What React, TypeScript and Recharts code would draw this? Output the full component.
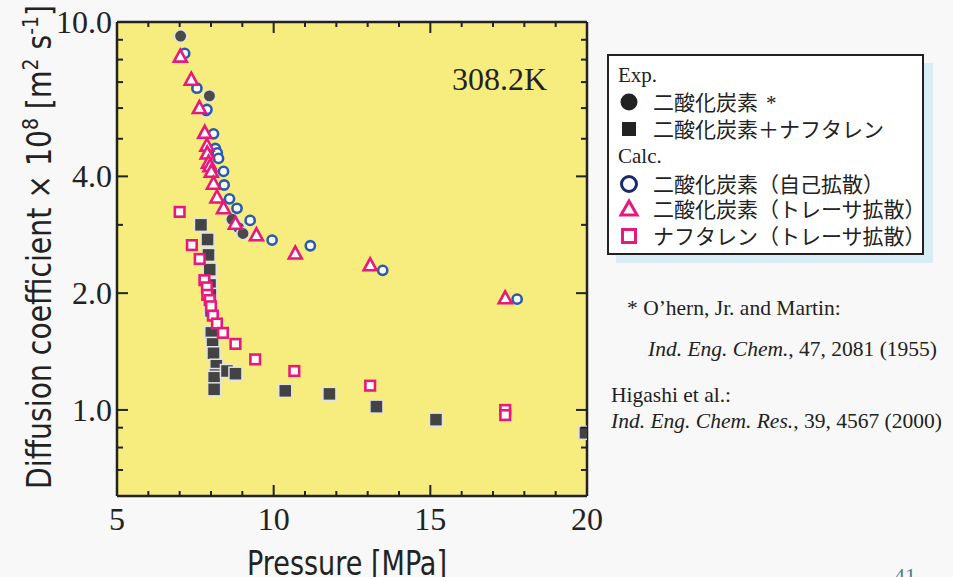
import React from "react";
import { CartesianGrid, Scatter, ScatterChart, XAxis, YAxis } from "recharts";

// [pressure MPa, D x 10^8 m2/s]
const expCO2 = [
  [7.03, 9.2], [7.85, 5.9], [7.95, 6.45], [8.67, 3.1], [8.88, 2.95], [9.02, 2.85],
];
const expCO2Naph = [
  [7.68, 3.0], [7.89, 2.75], [7.92, 2.51], [7.96, 2.3], [7.97, 2.1], [7.98, 1.98],
  [8.0, 1.8], [8.01, 1.58], [8.05, 1.48], [8.08, 1.4], [8.17, 1.3], [8.14, 1.23],
  [8.1, 1.21], [8.1, 1.13], [8.51, 1.26], [8.78, 1.24], [10.37, 1.12], [11.78, 1.1],
  [13.28, 1.02], [15.18, 0.944], [19.95, 0.873],
];
const calcSelf = [
  [7.16, 8.3], [7.55, 6.75], [7.87, 5.95], [8.08, 5.15], [8.14, 4.72], [8.2, 4.6],
  [8.24, 4.45], [8.4, 4.12], [8.42, 3.8], [8.59, 3.5], [8.83, 3.31], [9.25, 3.08],
  [9.95, 2.74], [11.17, 2.65], [13.48, 2.29], [17.77, 1.93],
];
const calcTracer = [
  [7.02, 8.14], [7.37, 7.1], [7.63, 6.0], [7.8, 5.18], [7.87, 4.8], [7.88, 4.58],
  [7.92, 4.34], [7.97, 4.25], [8.01, 4.11], [8.08, 3.83], [8.19, 3.53], [8.4, 3.31],
  [8.78, 3.02], [9.45, 2.82], [10.69, 2.53], [13.08, 2.36], [17.39, 1.94],
];
const calcNaph = [
  [7.0, 3.24], [7.39, 2.66], [7.64, 2.45], [7.79, 2.16], [7.87, 2.07], [7.88, 1.98],
  [7.96, 1.92], [8.0, 1.85], [8.06, 1.75], [8.19, 1.67], [8.38, 1.58], [8.78, 1.48],
  [9.41, 1.35], [10.66, 1.26], [13.08, 1.155], [17.39, 1.0], [17.39, 0.97],
];

const xTicks = [5, 6, 7, 8, 9, 10, 11, 12, 13, 14, 15, 16, 17, 18, 19, 20];
const xLabeled = [5, 10, 15, 20];
const yTicks = [0.7, 0.8, 0.9, 1, 2, 3, 4, 5, 6, 7, 8, 9, 10];
const yLabeled = [1, 2, 4, 10];

const PLOT_W = 470;
const PLOT_H = 474;
const INK = "#222";
const PINK = "#e8197b";
const BLUE = "#2a5cae";
const SERIF = "'Liberation Serif', 'Times New Roman', serif";
const SANS_NARROW = "'Liberation Sans Narrow', 'DejaVu Sans Condensed', 'Open Sans', sans-serif";
const CJK = "'Noto Sans CJK JP', 'Noto Sans', sans-serif";

const toPts = (arr: number[][]) => arr.map(([p, d]) => ({ p, d }));

function YTick(props: any) {
  const { x, y, payload } = props;
  const major = yLabeled.includes(payload.value);
  const len = major ? 11 : 6;
  return (
    <g>
      <line x1={x} x2={x + len} y1={y} y2={y} stroke={INK} strokeWidth={2} />
      <line x1={x + PLOT_W - len} x2={x + PLOT_W} y1={y} y2={y} stroke={INK} strokeWidth={2} />
      {major && (
        <text x={x - 5} y={y + 11} textAnchor="end" fontFamily={SERIF} fontSize={32} fill={INK}>
          {payload.value.toFixed(1)}
        </text>
      )}
    </g>
  );
}

function XTick(props: any) {
  const { x, y, payload } = props;
  const major = xLabeled.includes(payload.value);
  const len = major ? 11 : 5;
  return (
    <g>
      <line x1={x} x2={x} y1={y} y2={y - len} stroke={INK} strokeWidth={2} />
      <line x1={x} x2={x} y1={y - PLOT_H} y2={y - PLOT_H + len} stroke={INK} strokeWidth={2} />
      {major && (
        <text x={x} y={y + 34} textAnchor="middle" fontFamily={SERIF} fontSize={32} fill={INK}>
          {payload.value}
        </text>
      )}
    </g>
  );
}

const grayCircle = (p: any) => (
  <circle cx={p.cx} cy={p.cy} r={6.2} fill="#4a4a4a" stroke="#e2e2e2" strokeWidth={1.5} />
);
const graySquare = (p: any) => (
  <rect x={p.cx - 6.5} y={p.cy - 6.5} width={13} height={13} fill="#434343" stroke="#e2e2e2" strokeWidth={1.5} />
);
const blueCircle = (p: any) => (
  <circle cx={p.cx} cy={p.cy} r={4.6} fill="#fff" stroke={BLUE} strokeWidth={2.6} />
);
const pinkTriangle = (p: any) => (
  <path
    d={`M${p.cx},${p.cy - 7} L${p.cx + 6.5},${p.cy + 5} L${p.cx - 6.5},${p.cy + 5} Z`}
    fill="#fff"
    stroke={PINK}
    strokeWidth={2.6}
  />
);
const pinkSquare = (p: any) => (
  <rect x={p.cx - 4.8} y={p.cy - 4.8} width={9.6} height={9.6} fill="#fff" stroke={PINK} strokeWidth={2.6} />
);

function Overlay() {
  const itemX = 653;
  return (
    <svg width={953} height={577} style={{ position: "absolute", left: 0, top: 0, pointerEvents: "none" }}>
      {/* axis titles */}
      <text
        transform="translate(51,247) rotate(-90)"
        textAnchor="middle"
        fontFamily={SANS_NARROW}
        fontSize={33}
        fill={INK}
        textLength={484}
        lengthAdjust="spacingAndGlyphs"
      >
        Diffusion coefficient × 10
        <tspan dy={-13} fontSize={22}>8</tspan>
        <tspan dy={13}> [m</tspan>
        <tspan dy={-13} fontSize={22}>2</tspan>
        <tspan dy={13}> s</tspan>
        <tspan dy={-13} fontSize={22}>-1</tspan>
        <tspan dy={13}>]</tspan>
      </text>
      <text x={347} y={575} textAnchor="middle" fontFamily={SANS_NARROW} fontSize={33} fill={INK} textLength={200} lengthAdjust="spacingAndGlyphs">
        Pressure [MPa]
      </text>
      <text x={452} y={90} fontFamily={SERIF} fontSize={32} fill={INK}>308.2K</text>

      {/* legend */}
      <rect x={616} y={63} width={317} height={200} fill="#d8eef4" />
      <rect x={608} y={55} width={315} height={199} fill="#fff" stroke={INK} strokeWidth={2} />
      <text x={618} y={82} fontFamily={SERIF} fontSize={21} fill={INK}>Exp.</text>
      <circle cx={629} cy={102} r={8.5} fill={INK} />
      <text x={itemX} y={110} fontFamily={CJK} fontSize={21} fill={INK}>二酸化炭素</text>
      <text x={766} y={110} fontFamily={SERIF} fontSize={21} fill={INK}>*</text>
      <rect x={622} y={122} width={14} height={14} fill={INK} />
      <text x={itemX} y={137} fontFamily={CJK} fontSize={21} fill={INK}>二酸化炭素＋ナフタレン</text>
      <text x={618} y={163} fontFamily={SERIF} fontSize={21} fill={INK}>Calc.</text>
      <circle cx={629} cy={184} r={7.5} fill="#fff" stroke="#1b2a6b" strokeWidth={3} />
      <text x={itemX} y={192} fontFamily={CJK} fontSize={21} fill={INK}>二酸化炭素（自己拡散）</text>
      <path d="M629,201 L637,215 L621,215 Z" fill="#fff" stroke={PINK} strokeWidth={3} />
      <text x={itemX} y={217} fontFamily={CJK} fontSize={21} fill={INK}>二酸化炭素（トレーサ拡散）</text>
      <rect x={622.5} y={229.5} width={13} height={13} fill="#fff" stroke={PINK} strokeWidth={3} />
      <text x={itemX} y={244} fontFamily={CJK} fontSize={21} fill={INK}>ナフタレン（トレーサ拡散）</text>

      {/* references */}
      <text x={627} y={315} fontFamily={SERIF} fontSize={21.5} fill={INK}>* O’hern, Jr. and Martin:</text>
      <text x={648} y={356} fontFamily={SERIF} fontSize={21.5} fill={INK}>
        <tspan fontStyle="italic">Ind. Eng. Chem.</tspan>, 47, 2081 (1955)
      </text>
      <text x={611} y={402} fontFamily={SERIF} fontSize={21.5} fill={INK}>Higashi et al.:</text>
      <text x={611} y={428} fontFamily={SERIF} fontSize={21.5} fill={INK}>
        <tspan fontStyle="italic">Ind. Eng. Chem. Res.</tspan>, 39, 4567 (2000)
      </text>
      <text x={894} y={583} fontFamily={SERIF} fontSize={22} fill="#5b7a9a">41</text>
    </svg>
  );
}

export default function App() {
  return (
    <div style={{ position: "absolute", left: 0, top: 0, width: 953, height: 577, background: "#f8f8f8", overflow: "hidden" }}>
      <ScatterChart width={953} height={577} margin={{ top: 22, right: 366, bottom: 41, left: 57 }}>
        <CartesianGrid
          fill="#f6ed7e"
          stroke={INK}
          strokeWidth={2.5}
          strokeDasharray="0"
          horizontalCoordinatesGenerator={({ offset }: any) => [offset.top, offset.top + offset.height]}
          verticalCoordinatesGenerator={({ offset }: any) => [offset.left, offset.left + offset.width]}
        />
        <XAxis
          type="number"
          dataKey="p"
          domain={[5, 20]}
          ticks={xTicks}
          interval={0}
          height={40}
          axisLine={false}
          tickLine={false}
          tickSize={0}
          tickMargin={0}
          tick={<XTick />}
          allowDataOverflow
        />
        <YAxis
          type="number"
          dataKey="d"
          scale="log"
          domain={[0.6, 10]}
          ticks={yTicks}
          interval={0}
          width={60}
          axisLine={false}
          tickLine={false}
          tickSize={0}
          tickMargin={0}
          tick={<YTick />}
          allowDataOverflow
        />
        <Scatter data={toPts(expCO2)} shape={grayCircle} isAnimationActive={false} />
        <Scatter data={toPts(expCO2Naph)} shape={graySquare} isAnimationActive={false} />
        <Scatter data={toPts(calcSelf)} shape={blueCircle} isAnimationActive={false} />
        <Scatter data={toPts(calcTracer)} shape={pinkTriangle} isAnimationActive={false} />
        <Scatter data={toPts(calcNaph)} shape={pinkSquare} isAnimationActive={false} />
      </ScatterChart>
      <Overlay />
    </div>
  );
}
